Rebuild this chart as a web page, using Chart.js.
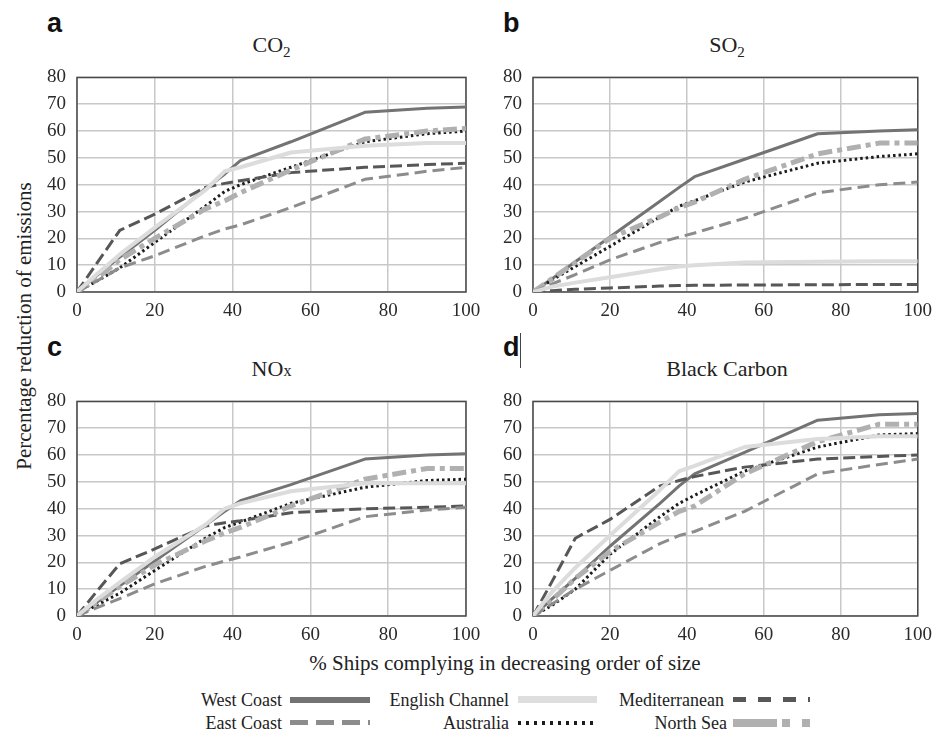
<!DOCTYPE html>
<html>
<head>
<meta charset="utf-8">
<script src="https://cdn.jsdelivr.net/npm/chart.js@4.4.1/dist/chart.umd.min.js"></script>
<style>
  html, body { margin: 0; padding: 0; background: #fff; }
  body { width: 940px; height: 736px; position: relative; overflow: hidden; color: #222; font-family: 'Liberation Serif', 'Times New Roman', serif; }
  .t { position: absolute; white-space: nowrap; font-family: 'Liberation Serif', 'Times New Roman', serif; color: #222; }
  .letter { position: absolute; font-family: 'Liberation Sans', Arial, sans-serif; font-weight: bold; font-size: 27px; line-height: 30px; color: #111; }
  .ptitle { font-size: 22px; line-height: 26px; text-align: center; }
  .lt { font-size: 18px; text-align: right; transform: translateY(-50%); }
  .cv { position: absolute; }
  .sw { position: absolute; }
  sub { font-size: 15px; vertical-align: -5px; }
</style>
</head>
<body>
<div class="letter" style="left:47px;top:8px">a</div>
<div class="letter" style="left:503px;top:8px">b</div>
<div class="letter" style="left:47px;top:332px">c</div>
<div class="letter" style="left:503px;top:332px">d</div>
<div style="position:absolute;left:520px;top:333px;width:1px;height:35px;background:#444"></div>

<div class="t ptitle" id="tt" style="left:77px;width:389px;top:32px">CO<sub>2</sub></div>
<div class="t ptitle" style="left:533px;width:388px;top:32px">SO<sub>2</sub></div>
<div class="t ptitle" style="left:77px;width:389px;top:356px">NO<span style="font-size:16px">x</span></div>
<div class="t ptitle" style="left:533px;width:388px;top:356px">Black Carbon</div>

<div class="t" style="left:24px;top:326px;font-size:21px;transform:translate(-50%,-50%) rotate(-90deg)">Percentage reduction of emissions</div>
<div class="t" style="left:505px;top:663px;font-size:21px;transform:translate(-50%,-50%)">% Ships complying in decreasing order of size</div>

<div class="t lt" style="right:658px;top:700px">West Coast</div>
<div class="t lt" style="right:431px;top:700px">English Channel</div>
<div class="t lt" style="right:216px;top:700px">Mediterranean</div>
<div class="t lt" style="right:658px;top:723px">East Coast</div>
<div class="t lt" style="right:431px;top:723px">Australia</div>
<div class="t lt" style="right:213px;top:723px">North Sea</div>

<!-- legend line samples (CSS) -->
<div class="sw" style="left:290px;top:697px;width:80px;height:6px;background:#737373"></div>
<div class="sw" style="left:518px;top:696px;width:79px;height:7px;background:#dedede"></div>
<div class="sw" style="left:733px;top:697px;width:77px;height:5px;background:repeating-linear-gradient(to right,#575757 0 13px,transparent 13px 25px)"></div>
<div class="sw" style="left:290px;top:720px;width:80px;height:5px;background:repeating-linear-gradient(to right,#8c8c8c 0 18px,transparent 18px 26px)"></div>
<div class="sw" style="left:518px;top:721px;width:79px;height:4px;background:repeating-linear-gradient(to right,#1c1c1c 0 3.5px,transparent 3.5px 8px)"></div>
<div class="sw" style="left:733px;top:719px;width:77px;height:8px;background:linear-gradient(to right,#b0b0b0 0 44px,transparent 44px 49px,#b0b0b0 49px 57px,transparent 57px 69px,#b0b0b0 69px 77px)"></div>

<script>
// ---------------- DATA ----------------
const xPoints = [0, 5, 11, 20, 33, 38, 42, 55, 74, 90, 100];
const seriesNames = ['West Coast', 'East Coast', 'English Channel', 'Australia', 'Mediterranean', 'North Sea'];
const yTicks = [0, 10, 20, 30, 40, 50, 60, 70, 80];
const xTicks = [0, 20, 40, 60, 80, 100];

// a: CO2
const co2West     = [0, 6, 13, 23, 38.5, 44, 49, 56, 67, 68.5, 69];
const co2East     = [0, 4, 9, 13.5, 21, 23.5, 25, 31.5, 42, 45, 46.5];
const co2English  = [0, 6.5, 14, 24, 38, 45, 46.5, 52, 54.5, 55.5, 55.5];
const co2Australia= [0, 4, 9, 18.5, 32, 37.5, 40, 46.5, 56, 59, 60];
const co2Med      = [0, 10.5, 23, 29, 39, 40.5, 41.5, 44.5, 46.5, 47.5, 48];
const co2NorthSea = [0, 5, 12, 20, 31, 34, 37, 45.5, 57, 60, 61];

// b: SO2
const so2West     = [0, 5, 11.3, 20.5, 33.8, 39, 43, 49.5, 59, 60, 60.5];
const so2East     = [0, 3, 6.5, 12, 18.5, 20.5, 22, 27.5, 37, 40, 41];
const so2English  = [0, 2, 3.5, 5.5, 8.5, 9.5, 10, 11, 11.3, 11.5, 11.5];
const so2Australia= [0, 4.5, 9.5, 17, 28, 32, 34, 41, 48, 50.5, 51.5];
const so2Med      = [0, 0.5, 1, 1.5, 2.2, 2.4, 2.5, 2.6, 2.7, 2.8, 2.8];
const so2NorthSea = [0, 5, 11, 20, 28, 31.5, 33.5, 42, 51.5, 55.5, 55.5];

// c: NOx
const noxWest     = [0, 5, 11.3, 20.5, 33.8, 39, 43, 49, 58.5, 60, 60.5];
const noxEast     = [0, 3, 6.5, 12, 18.5, 20.5, 22, 27.5, 37, 39.5, 40.5];
const noxEnglish  = [0, 6, 12.5, 22, 34, 40, 42, 46.5, 49.5, 49.5, 49.5];
const noxAustralia= [0, 4, 8.5, 17, 29, 33, 35, 42, 48, 50.5, 51];
const noxMed      = [0, 9, 19.5, 25, 33.5, 34.8, 35.5, 38.5, 40, 40.5, 41];
const noxNorthSea = [0, 5, 11, 19, 28, 31, 33, 41, 51, 55, 55];

// d: Black Carbon
const bcWest      = [0, 6.5, 14, 26, 42, 48.5, 53, 61, 73, 75, 75.5];
const bcEast      = [0, 4.5, 10, 17, 27, 30, 31.5, 39, 53, 56.5, 58.5];
const bcEnglish   = [0, 9, 18, 30, 47, 54, 56, 63, 66, 67, 67];
const bcAustralia = [0, 4, 10, 23, 37, 42, 45, 54, 63, 67.5, 68];
const bcMed       = [0, 13, 29, 36, 48.5, 50.5, 52, 55.5, 58.5, 59.5, 60];
const bcNorthSea  = [0, 6, 14, 24, 35, 39, 41, 53, 65, 71.5, 71.5];

// ---------------- STYLES ----------------
const SERIF = "'Liberation Serif', 'Times New Roman', serif";

const styles = {
  'West Coast':      { color: '#737373', width: 3,   dash: [] },
  'East Coast':      { color: '#8c8c8c', width: 3,   dash: [12, 6] },
  'English Channel': { color: '#dcdcdc', width: 4,   dash: [] },
  'Australia':       { color: '#1c1c1c', width: 3,   dash: [2.5, 3] },
  'Mediterranean':   { color: '#575757', width: 3,   dash: [12, 5] },
  'North Sea':       { color: '#b0b0b0', width: 5,   dash: [14, 5, 5, 5] }
};
const drawOrder = ['English Channel', 'East Coast', 'North Sea', 'Mediterranean', 'Australia', 'West Coast'];

const panels = [
  { left: 29, top: 55, width: 461, padRight: 24,
    series: { 'West Coast': co2West, 'East Coast': co2East, 'English Channel': co2English, 'Australia': co2Australia, 'Mediterranean': co2Med, 'North Sea': co2NorthSea } },
  { left: 485, top: 55, width: 455, padRight: 19,
    series: { 'West Coast': so2West, 'East Coast': so2East, 'English Channel': so2English, 'Australia': so2Australia, 'Mediterranean': so2Med, 'North Sea': so2NorthSea } },
  { left: 29, top: 379, width: 461, padRight: 24,
    series: { 'West Coast': noxWest, 'East Coast': noxEast, 'English Channel': noxEnglish, 'Australia': noxAustralia, 'Mediterranean': noxMed, 'North Sea': noxNorthSea } },
  { left: 485, top: 379, width: 455, padRight: 19,
    series: { 'West Coast': bcWest, 'East Coast': bcEast, 'English Channel': bcEnglish, 'Australia': bcAustralia, 'Mediterranean': bcMed, 'North Sea': bcNorthSea } }
];

const Y_AXIS_W = 48, X_AXIS_H = 28, PAD_TOP = 12, CANVAS_H = 265;

const borderPlugin = {
  id: 'plotBorder',
  beforeDatasetsDraw(chart) {
    const a = chart.chartArea, ctx = chart.ctx;
    ctx.save();
    ctx.strokeStyle = '#4a4a4a';
    ctx.lineWidth = 1.5;
    ctx.strokeRect(a.left, a.top, a.right - a.left, a.bottom - a.top);
    ctx.restore();
  }
};

const charts = [];
panels.forEach(p => {
  const c = document.createElement('canvas');
  c.className = 'cv';
  c.style.left = p.left + 'px'; c.style.top = p.top + 'px';
  c.width = p.width; c.height = CANVAS_H;
  c.style.width = p.width + 'px'; c.style.height = CANVAS_H + 'px';
  document.body.appendChild(c);

  const datasets = drawOrder.map(name => {
    const s = styles[name];
    const arr = p.series[name];
    return {
      label: name,
      data: xPoints.map((x, i) => ({ x: x, y: arr[i] })),
      borderColor: s.color,
      borderWidth: s.width,
      borderDash: s.dash,
      pointRadius: 0,
      fill: false,
      tension: 0,
      borderCapStyle: 'butt',
      borderJoinStyle: 'round'
    };
  });

  charts.push(new Chart(c, {
    type: 'line',
    data: { datasets },
    plugins: [borderPlugin],
    options: {
      responsive: false,
      animation: false,
      events: [],
      layout: { padding: { top: PAD_TOP, right: p.padRight, left: 0, bottom: 0 } },
      plugins: { legend: { display: false }, tooltip: { enabled: false }, title: { display: false } },
      scales: {
        x: {
          type: 'linear', min: 0, max: 100,
          afterFit(scale) { scale.height = X_AXIS_H; },
          afterBuildTicks(scale) { scale.ticks = xTicks.map(v => ({ value: v })); },
          grid: { color: '#c8c8c8', lineWidth: 1.5, drawTicks: false },
          border: { display: false },
          ticks: { padding: 8, color: '#2a2a2a', font: { family: SERIF, size: 19 }, maxRotation: 0 }
        },
        y: {
          type: 'linear', min: 0, max: 80,
          afterFit(scale) { scale.width = Y_AXIS_W; },
          afterBuildTicks(scale) { scale.ticks = yTicks.map(v => ({ value: v })); },
          grid: { color: '#c8c8c8', lineWidth: 1.5, drawTicks: false },
          border: { display: false },
          ticks: { padding: 11, color: '#2a2a2a', font: { family: SERIF, size: 19 } }
        }
      }
    }
  }));
});
</script>
</body>
</html>
